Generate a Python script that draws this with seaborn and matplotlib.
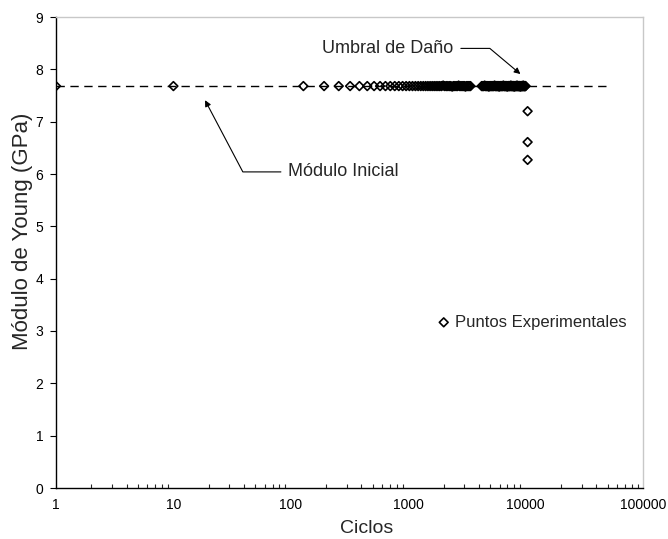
import matplotlib
matplotlib.use("Agg")
import matplotlib.pyplot as plt
from matplotlib.ticker import LogLocator, FixedLocator, NullFormatter
import seaborn as sns
import pandas as pd

# ---------------- data ----------------
ciclos = [1, 10,
          128, 192, 256, 320, 384, 448, 512, 576, 640, 704, 768, 832, 896, 960,
          1024, 1088, 1152, 1216, 1280, 1344, 1408, 1472, 1536, 1600, 1664, 1728,
          1792, 1856, 1920, 1984, 2048, 2112, 2176, 2240, 2304, 2368, 2432, 2496,
          2560, 2624, 2688, 2752, 2816, 2880, 2944, 3008, 3072, 3136, 3200, 3264,
          3328, 3392,
          4224, 4288, 4352, 4416, 4480, 4544, 4608, 4672, 4736, 4800, 4864, 4928, 4992,
          5056, 5120, 5184, 5248, 5312, 5376, 5440, 5504, 5568, 5632, 5696, 5760, 5824,
          5888, 5952, 6016, 6080, 6144, 6208, 6272, 6336, 6400, 6464, 6528, 6592, 6656,
          6720, 6784, 6848, 6912, 6976, 7040, 7104, 7168, 7232, 7296, 7360, 7424, 7488,
          7552, 7616, 7680, 7744, 7808, 7872, 7936, 8000, 8064, 8128, 8192, 8256, 8320,
          8384, 8448, 8512, 8576, 8640, 8704, 8768, 8832, 8896, 8960, 9024, 9088, 9152,
          9216, 9280, 9344, 9408, 9472, 9536, 9600, 9664, 9728, 9792, 9856, 9920, 9984,
          10400, 10400, 10400]
modulo = [7.68, 7.68,
          7.68, 7.68, 7.68, 7.68, 7.68, 7.68, 7.68, 7.68, 7.68, 7.68, 7.68, 7.68, 7.68, 7.68,
          7.68, 7.68, 7.68, 7.68, 7.68, 7.68, 7.68, 7.68, 7.68, 7.68, 7.68, 7.68,
          7.68, 7.68, 7.68, 7.69, 7.68, 7.68, 7.68, 7.68, 7.68, 7.67, 7.68, 7.68,
          7.68, 7.68, 7.69, 7.68, 7.68, 7.68, 7.68, 7.68, 7.67, 7.68, 7.68, 7.68,
          7.68, 7.68,
          7.68, 7.68, 7.68, 7.68, 7.69, 7.68, 7.68, 7.68, 7.68, 7.68, 7.67, 7.68, 7.68,
          7.68, 7.68, 7.68, 7.68, 7.68, 7.68, 7.69, 7.68, 7.68, 7.68, 7.68, 7.68, 7.68,
          7.68, 7.67, 7.68, 7.68, 7.68, 7.68, 7.68, 7.68, 7.68, 7.69, 7.68, 7.68, 7.68,
          7.68, 7.68, 7.68, 7.68, 7.67, 7.68, 7.68, 7.68, 7.68, 7.68, 7.68, 7.68, 7.69,
          7.68, 7.68, 7.68, 7.68, 7.68, 7.68, 7.68, 7.67, 7.68, 7.68, 7.68, 7.68, 7.68,
          7.68, 7.69, 7.68, 7.68, 7.68, 7.68, 7.68, 7.68, 7.68, 7.68, 7.67, 7.68, 7.68,
          7.68, 7.68, 7.68, 7.68, 7.68, 7.69, 7.68, 7.68, 7.68, 7.68, 7.68, 7.68, 7.68,
          7.20, 6.61, 6.27]

linea_x = [1, 50000]
linea_y = [7.68, 7.68]

xtick_vals = [1, 10, 100, 1000, 10000, 100000]
xtick_labels = ["1", "10", "100", "1000", "10000", "100000"]
ytick_vals = [0, 1, 2, 3, 4, 5, 6, 7, 8, 9]

# ---------------- style ----------------
sns.set_style("white")
plt.rcParams["font.family"] = ["Liberation Sans", "DejaVu Sans"]

fig = plt.figure(figsize=(6.68, 5.39), dpi=100)
ax = fig.add_axes([56 / 668, 1 - 488 / 539, 587 / 668, 471 / 539])

df = pd.DataFrame({"Ciclos": ciclos, "Modulo": modulo})

sns.lineplot(x=linea_x, y=linea_y, ax=ax, color="black", linewidth=1.0,
             linestyle=(0, (6, 4)), zorder=2)
sns.scatterplot(data=df, x="Ciclos", y="Modulo", ax=ax, marker="D",
                facecolor="none", edgecolor="black", linewidth=1.2, s=20,
                label="Puntos Experimentales", zorder=3)

ax.set_xscale("log")
ax.set_xlim(1, 100000)
ax.set_ylim(0, 9)

ax.xaxis.set_major_locator(FixedLocator(xtick_vals))
ax.set_xticklabels(xtick_labels)
ax.xaxis.set_minor_locator(LogLocator(base=10, subs=range(2, 10)))
ax.xaxis.set_minor_formatter(NullFormatter())
ax.set_yticks(ytick_vals)

ax.tick_params(axis="x", which="major", direction="in", length=4, width=0.8,
               labelsize=10, pad=7, colors="black")
ax.tick_params(axis="x", which="minor", direction="in", length=3, width=0.8,
               bottom=True)
ax.tick_params(axis="y", which="major", direction="out", length=4, width=0.8,
               labelsize=10, pad=5, left=True, colors="black")

for side in ["left", "bottom"]:
    ax.spines[side].set_color("black")
    ax.spines[side].set_linewidth(1.0)
for side in ["top", "right"]:
    ax.spines[side].set_color("#c8c8c8")
    ax.spines[side].set_linewidth(1.0)

ax.set_xlabel("Ciclos", fontsize=14)
ax.set_ylabel("Módulo de Young (GPa)", fontsize=16)
ax.xaxis.set_label_coords(0.53, -0.068)
ax.yaxis.set_label_coords(-0.040, 0.545)

ax.annotate("Umbral de Daño", xy=(9030, 7.91), xytext=(670, 8.40),
            ha="center", va="center", fontsize=13,
            arrowprops=dict(arrowstyle="-|>", color="black", lw=0.8,
                            mutation_scale=9, shrinkA=3, shrinkB=0,
                            connectionstyle="angle,angleA=0,angleB=-40,rad=0"))
ax.annotate("Módulo Inicial", xy=(18.6, 7.41), xytext=(282, 6.04),
            ha="center", va="center", fontsize=13,
            arrowprops=dict(arrowstyle="-|>", color="black", lw=0.8,
                            mutation_scale=9, shrinkA=3, shrinkB=0,
                            connectionstyle="angle,angleA=180,angleB=117.8,rad=0"))

ax.legend(loc="center left", bbox_to_anchor=(0.652, 0.352), frameon=False,
          fontsize=12, handlelength=0.6, handletextpad=0.35, borderpad=0,
          borderaxespad=0)

fig.savefig("out.png", dpi=100)
